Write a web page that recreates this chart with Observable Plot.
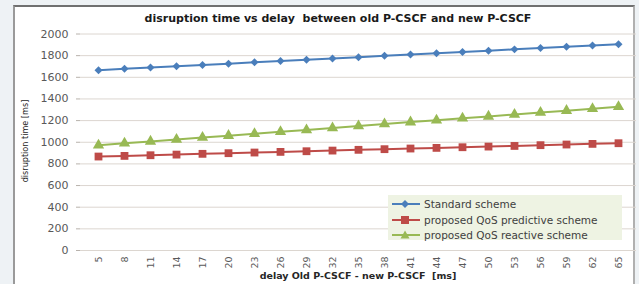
<!DOCTYPE html>
<html>
<head>
<meta charset="utf-8">
<script src="https://cdn.jsdelivr.net/npm/d3@7"></script>
<script src="https://cdn.jsdelivr.net/npm/@observablehq/plot@0.6"></script>
<style>
  html, body { margin: 0; padding: 0; background: #eef2f5; }
  #page { position: relative; width: 639px; height: 284px; overflow: hidden; }
  #frame { position: absolute; left: 13px; top: 5px; width: 622px; height: 280px;
           background: #fff; border-left: 2px solid #9a9a9a; border-top: 2px solid #707070;
           border-right: 2px solid #b0b0b0; box-sizing: border-box; }
  #chart { position: absolute; left: 0; top: 0; }
  .title { position: absolute; left: 0; width: 676px; top: 12px; text-align: center;
           font: bold 11px "DejaVu Sans", sans-serif; color: #1a1a1a; white-space: pre; }
  .xlabel { position: absolute; left: 80px; width: 556px; top: 270px; text-align: center;
            font: bold 9.5px "DejaVu Sans", sans-serif; color: #262626; white-space: pre; }
  .ylabel { position: absolute; left: 25px; top: 141px; transform: translate(-50%, -50%) rotate(-90deg);
            font: 9px "Liberation Sans Narrow", "DejaVu Sans Condensed", sans-serif; color: #262626; white-space: nowrap; }
  #legend { position: absolute; left: 388px; top: 195px; width: 234px; height: 45px; background: #eef3e3;
            font: 10.5px "DejaVu Sans", sans-serif; color: #404040; }
  #legend .row { position: absolute; left: 3px; height: 14px; display: flex; align-items: center; white-space: nowrap; }
  #legend svg { margin-right: 2px; }
</style>
</head>
<body>
<div id="page">
  <div id="frame"></div>
  <div id="chart"></div>
  <div class="title">disruption time vs delay  between old P-CSCF and new P-CSCF</div>
  <div class="ylabel">disruption time [ms]</div>
  <div class="xlabel">delay Old P-CSCF - new P-CSCF  [ms]</div>
  <div id="legend"></div>
</div>
<script>
const categories = [5, 8, 11, 14, 17, 20, 23, 26, 29, 32, 35, 38, 41, 44, 47, 50, 53, 56, 59, 62, 65];
const standardScheme = [1665, 1678, 1690, 1702, 1714, 1726, 1738, 1750, 1762, 1774, 1786, 1798, 1810, 1822, 1834, 1846, 1858, 1870, 1882, 1894, 1905];
const predictiveScheme = [868, 874, 880, 886, 893, 899, 905, 911, 917, 923, 930, 936, 942, 948, 954, 960, 966, 973, 979, 985, 991];
const reactiveScheme = [972, 990, 1008, 1025, 1043, 1061, 1079, 1097, 1114, 1132, 1150, 1168, 1186, 1203, 1221, 1239, 1257, 1275, 1292, 1310, 1328];
const seriesNames = ["Standard scheme", "proposed QoS predictive scheme", "proposed QoS reactive scheme"];
const seriesColors = ["#4a7ebb", "#be4b48", "#98b954"];
const seriesSymbols = ["diamond2", "square", "triangle"];
const seriesSizes = [3.6, 4.4, 4.2];
const yTicks = [0, 200, 400, 600, 800, 1000, 1200, 1400, 1600, 1800, 2000];

const seriesValues = [standardScheme, predictiveScheme, reactiveScheme];
const rows = [];
seriesNames.forEach((name, s) => {
  categories.forEach((c, i) => rows.push({series: name, x: String(c), y: seriesValues[s][i], s}));
});

const marks = [
  Plot.gridY(yTicks, {stroke: "#dcd6d0", strokeOpacity: 1, strokeWidth: 1}),
  Plot.ruleX([0], {frameAnchor: "left", stroke: "#b8b2ac"}),
  Plot.axisY(yTicks, {tickSize: 4, tickPadding: 8, stroke: "#b8b2ac", tickFormat: d => String(d),
    fontSize: 11, fontFamily: "DejaVu Sans", fill: "#595959"}),
  Plot.axisX({tickSize: 0, tickPadding: 6, tickRotate: -90, fontSize: 9.5,
    fontFamily: "DejaVu Sans", fill: "#595959"})
];
seriesNames.forEach((name, s) => {
  const d = rows.filter(r => r.s === s);
  marks.push(Plot.line(d, {x: "x", y: "y", stroke: seriesColors[s], strokeWidth: 2}));
  marks.push(Plot.dot(d, {x: "x", y: "y", symbol: seriesSymbols[s], r: seriesSizes[s], fill: seriesColors[s], stroke: "none"}));
});

const chart = Plot.plot({
  width: 639, height: 284,
  marginLeft: 80, marginRight: 3, marginTop: 33.5, marginBottom: 34,
  style: {background: "transparent", overflow: "visible"},
  x: {type: "point", domain: categories.map(String), padding: 0.5, label: null},
  y: {domain: [0, 2000], label: null},
  marks
});
document.getElementById("chart").append(chart);

const legend = document.getElementById("legend");
const symPaths = {
  "diamond2": "M14,3 L18,7 L14,11 L10,7 Z",
  "square": "M10,3 L18,3 L18,11 L10,11 Z",
  "triangle": "M14,2.5 L18.5,10.5 L9.5,10.5 Z"
};
seriesNames.forEach((name, s) => {
  const row = document.createElement("div");
  row.className = "row";
  row.style.top = (2 + s * 15.5) + "px";
  row.innerHTML = `<svg width="31" height="14"><line x1="1" x2="29" y1="7" y2="7" stroke="${seriesColors[s]}" stroke-width="2"/><path d="${symPaths[seriesSymbols[s]]}" fill="${seriesColors[s]}"/></svg><span>${name}</span>`;
  legend.append(row);
});
</script>
</body>
</html>
